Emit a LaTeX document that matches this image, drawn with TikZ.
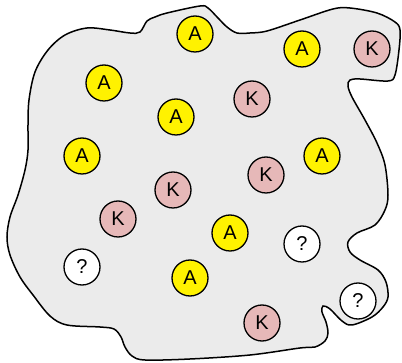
\documentclass[tikz,border=0pt]{standalone}
\usepackage{fontspec}
\setmainfont{Liberation Sans}
\usepackage{tikz}
\usepackage{xcolor}
\definecolor{rosy}{HTML}{E6B8B8}
\definecolor{blobgray}{HTML}{EBEBEB}
\tikzset{%
	every ball/.style={
		circle,
		draw,
		line width=1.3pt,
		minimum size=36pt,
		inner sep=0pt,
		font=\fontsize{20}{22}\selectfont
	},
	ball a/.style={every ball, fill=yellow},
	ball k/.style={every ball, fill=rosy},
	ball q/.style={every ball, fill=white},
}

\begin{document}
\begin{tikzpicture}[x=1pt, y=-1pt]
			\useasboundingbox (0,0) rectangle (402,363);
			
			% Draw the blob
			\draw[fill=blobgray, line width=1.5pt] plot[smooth cycle, tension=0.55] coordinates {
				(140,32) (147,21) (155,17) (167,13) (200,6) (208,8) (218,18) (227,27)
				(237,33) (250,33) (267,31) (300,20) (333,9) (350,8) (377,13) (395,22)
				(400,30) (399,50) (395,75) (388,81) (360,79) (350,80) (348,86) (352,97)
				(365,120) (377,143) (385,165) (388,195) (385,210) (375,225) (357,233)
				(348,242) (350,252) (360,260) (378,270) (386,282) (388,297) (383,307)
				(372,317) (352,325) (342,321) (330,309) (323,306) (322,312) (326,322)
				(328,333) (325,341) (315,347) (300,348) (250,355) (190,359) (145,360)
				(132,356) (125,347) (121,337) (114,329) (100,327) (67,325) (50,316)
				(33,295) (20,277) (10,255) (7,237) (10,217) (18,195) (25,170) (28,150)
				(28,125) (29,100) (35,72) (48,50) (65,35) (87,28) (110,30) (130,33)};
			
			% Draw the A balls
			\node[ball a] (a1) at (195,34) {A};
			\node[ball a] (a2) at (302,49) {A};
			\node[ball a] (a3) at (104,83) {A};
			\node[ball a] (a4) at (176,117) {A};
			\node[ball a] (a5) at (82,156) {A};
			\node[ball a] (a6) at (322,156) {A};
			\node[ball a] (a7) at (230,233) {A};
			\node[ball a] (a8) at (190,278) {A};
			
			% Draw the K balls
			\node[ball k] (k1) at (372,49) {K};
			\node[ball k] (k2) at (252,99) {K};
			\node[ball k] (k3) at (266,175) {K};
			\node[ball k] (k4) at (173,190) {K};
			\node[ball k] (k5) at (118,219) {K};
			\node[ball k] (k6) at (262,323) {K};
			
			% Draw the unknown balls
			\node[ball q] (q1) at (302,244) {?};
			\node[ball q] (q2) at (82,267) {?};
			\node[ball q] (q3) at (358,301) {?};
			
		\end{tikzpicture}
\end{document}
